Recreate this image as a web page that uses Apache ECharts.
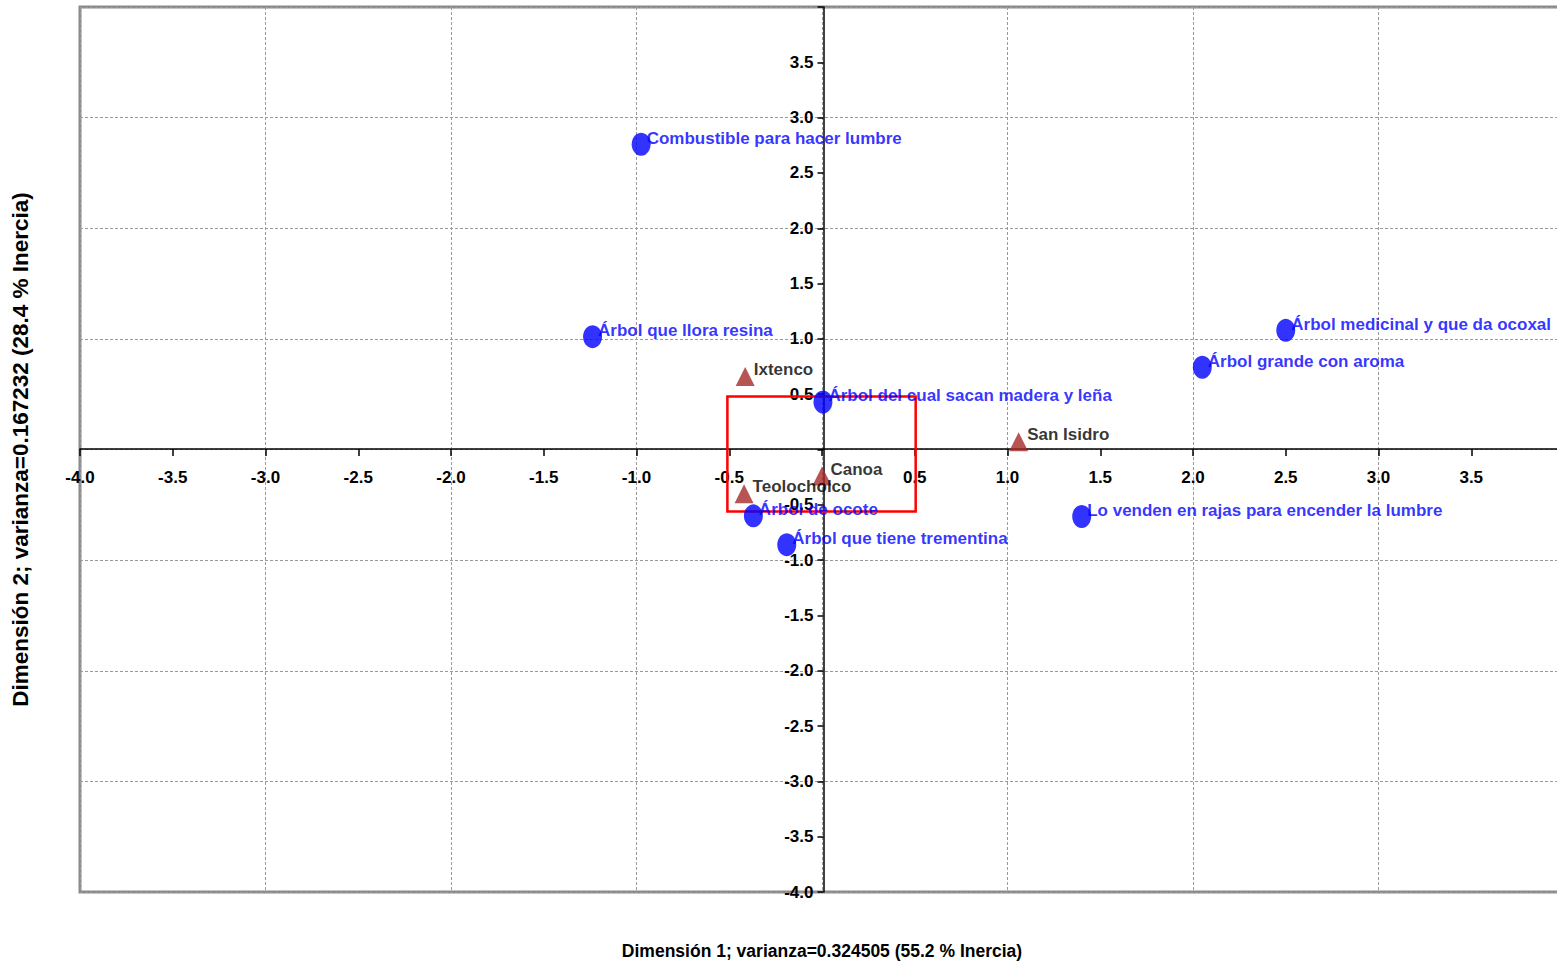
<!DOCTYPE html>
<html>
<head>
<meta charset="utf-8">
<script src="https://cdn.jsdelivr.net/npm/echarts@6/dist/echarts.min.js"></script>
<style>
html,body{margin:0;padding:0;background:#fff;overflow:hidden;width:1557px;height:965px;}
#chart{width:1567px;height:965px;}
</style>
</head>
<body>
<div id="chart"></div>
<script>
// Row points (blue circles)
const rowNames = [
  'Combustible para hacer lumbre',
  'Árbol que llora resina',
  'Árbol del cual sacan madera y leña',
  'Árbol medicinal y que da ocoxal',
  'Árbol grande con aroma',
  'Lo venden en rajas para encender la lumbre',
  'Árbol de ocote',
  'Árbol que tiene trementina'
];
const rowX = [-0.975, -1.237, 0.005, 2.50, 2.05, 1.40, -0.37, -0.19];
const rowY = [2.76, 1.02, 0.43, 1.077, 0.743, -0.605, -0.60, -0.86];

// Column points (red triangles)
const colNames = ['Ixtenco', 'San Isidro', 'Canoa', 'Teolocholco'];
const colX = [-0.414, 1.06, 0.0, -0.42];
const colY = [0.66, 0.07, -0.24, -0.40];

// Highlight box [xMin, xMax, yMin, yMax]
const boxRange = [-0.51, 0.505, -0.56, 0.48];

const xName = 'Dimensión 1; varianza=0.324505 (55.2 % Inercia)';
const yName = 'Dimensión 2; varianza=0.167232 (28.4 % Inercia)';

const FONT = 'Liberation Sans, Arial, sans-serif';
const tickFmt = v => (Math.abs(v) < 1e-9 || Math.abs(v - 4) < 1e-9) ? '' : v.toFixed(1);

const rowData = rowNames.map((n, i) => ({ name: n, value: [rowX[i], rowY[i]] }));
const colData = colNames.map((n, i) => ({ name: n, value: [colX[i], colY[i]] }));

const GRID = { left: 80, right: 0, top: 7, bottom: 72 };
const W = 1567, H = 965;
const gridW = W - GRID.left - GRID.right;
const gridH = H - GRID.top - GRID.bottom;

const chart = echarts.init(document.getElementById('chart'), null, { renderer: 'svg', width: W, height: H });
chart.setOption({
  animation: false,
  backgroundColor: '#ffffff',
  grid: Object.assign({
    show: true, borderColor: '#8a8a8a', borderWidth: 3, backgroundColor: 'transparent'
  }, GRID),
  xAxis: [
    {
      type: 'value', min: -4, max: 4, interval: 0.5, position: 'bottom', offset: -gridH / 2,
      axisLine: { show: true, onZero: false, lineStyle: { color: '#000', width: 1.5 } },
      axisTick: { show: true, length: 7, lineStyle: { color: '#000', width: 1.5 } },
      axisLabel: { formatter: tickFmt, color: '#000', fontWeight: 'bold', fontSize: 17, fontFamily: FONT, margin: 20 },
      splitLine: { show: false }
    },
    {
      type: 'value', min: -4, max: 4, interval: 1, position: 'bottom',
      axisLine: { show: false, onZero: false },
      axisTick: { show: false },
      axisLabel: { show: false },
      splitLine: { show: true, lineStyle: { color: '#9a9a9a', type: [3, 2], width: 1 } },
      name: xName, nameLocation: 'middle', nameGap: 50,
      nameTextStyle: { color: '#000', fontWeight: 'bold', fontSize: 17.5, fontFamily: FONT }
    }
  ],
  yAxis: [
    {
      type: 'value', min: -4, max: 4, interval: 0.5, position: 'left', offset: -gridW / 2,
      axisLine: { show: true, onZero: false, lineStyle: { color: '#000', width: 1.5 } },
      axisTick: { show: true, length: 6, lineStyle: { color: '#000', width: 1.5 } },
      axisLabel: { formatter: tickFmt, color: '#000', fontWeight: 'bold', fontSize: 17, fontFamily: FONT, margin: 10 },
      splitLine: { show: false }
    },
    {
      type: 'value', min: -4, max: 4, interval: 1, position: 'left',
      axisLine: { show: false, onZero: false },
      axisTick: { show: false },
      axisLabel: { show: false },
      splitLine: { show: true, lineStyle: { color: '#9a9a9a', type: [3, 2], width: 1 } },
      name: yName, nameLocation: 'middle', nameGap: 48,
      nameTextStyle: { color: '#000', fontWeight: 'bold', fontSize: 22.5, fontFamily: FONT }
    }
  ],
  series: [
    {
      type: 'scatter', xAxisIndex: 0, yAxisIndex: 0, z: 5,
      data: [],
      markArea: {
        silent: true,
        itemStyle: { color: 'rgba(0,0,0,0)', borderColor: '#ff0000', borderWidth: 2.5 },
        data: [[{ coord: [boxRange[0], boxRange[3]] }, { coord: [boxRange[1], boxRange[2]] }]]
      }
    },
    {
      name: 'filas', type: 'scatter', xAxisIndex: 0, yAxisIndex: 0, z: 6,
      symbol: 'circle', symbolSize: [19, 23],
      itemStyle: { color: '#0000ff' },
      label: {
        show: true, position: 'right', distance: -4, offset: [0, -6], formatter: '{b}',
        color: '#0000ff', fontWeight: 'bold', fontSize: 17, fontFamily: FONT
      },
      data: rowData
    },
    {
      name: 'columnas', type: 'scatter', xAxisIndex: 0, yAxisIndex: 0, z: 6,
      symbol: 'triangle', symbolSize: [19, 19],
      itemStyle: { color: '#a52a2a' },
      label: {
        show: true, position: 'right', distance: -1, offset: [0, -7], formatter: '{b}',
        color: '#000', fontWeight: 'bold', fontSize: 17, fontFamily: FONT
      },
      data: colData
    }
  ]
});
</script>
</body>
</html>
